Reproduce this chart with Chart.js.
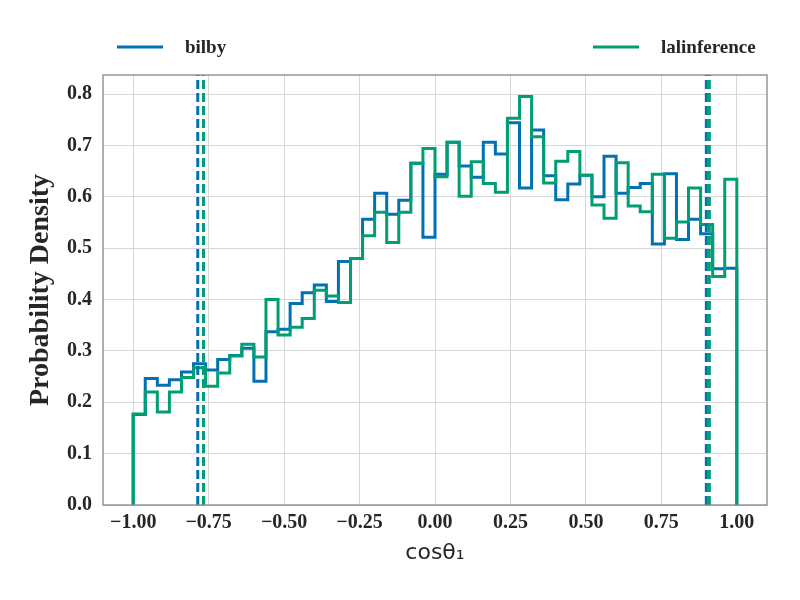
<!DOCTYPE html>
<html>
<head>
<meta charset="utf-8">
<title>cos theta_1 posterior</title>
<script src="https://cdn.jsdelivr.net/npm/chart.js@4.4.0/dist/chart.umd.min.js"></script>
<style>
    html, body { margin: 0; padding: 0; background: #ffffff; }
</style>
</head>
<body>
<canvas id="histChart" width="800" height="600"></canvas>
<script>
// histogram bins: 50 bins between -1 and 1
const binLo = -1.0;
const binHi = 1.0;

const seriesLabels = ['bilby', 'lalinference'];
const seriesColors = ['#0072B2', '#009E73'];

// probability density per bin
const bilbyDensity = [
    0.176, 0.246, 0.233, 0.244, 0.259, 0.275, 0.263, 0.283, 0.291, 0.305,
    0.241, 0.337, 0.342, 0.392, 0.413, 0.428, 0.396, 0.474, 0.480, 0.556,
    0.607, 0.566, 0.593, 0.665, 0.521, 0.644, 0.706, 0.660, 0.638, 0.706,
    0.683, 0.744, 0.617, 0.730, 0.641, 0.594, 0.625, 0.642, 0.600, 0.679,
    0.607, 0.618, 0.626, 0.508, 0.645, 0.517, 0.556, 0.528, 0.460, 0.461
];
const lalDensity = [
    0.177, 0.220, 0.181, 0.220, 0.248, 0.267, 0.231, 0.257, 0.290, 0.313,
    0.288, 0.400, 0.331, 0.346, 0.363, 0.418, 0.407, 0.394, 0.480, 0.524,
    0.570, 0.511, 0.570, 0.665, 0.694, 0.639, 0.706, 0.601, 0.668, 0.626,
    0.609, 0.753, 0.795, 0.717, 0.627, 0.669, 0.688, 0.642, 0.584, 0.558,
    0.666, 0.582, 0.571, 0.644, 0.519, 0.551, 0.617, 0.546, 0.445, 0.634
];

// 90% credible bounds (dashed lines)
const bilbyBounds = [-0.786, 0.899];
const lalBounds = [-0.767, 0.909];

const xTicks = [-1.0, -0.75, -0.5, -0.25, 0.0, 0.25, 0.5, 0.75, 1.0];
const yTicks = [0.0, 0.1, 0.2, 0.3, 0.4, 0.5, 0.6, 0.7, 0.8];
const xRange = [-1.1, 1.1];
const yRange = [0, 0.837];

const textColor = '#262626';
const serif = '"Liberation Serif", "Times New Roman", serif';

// points at the left edge of each bin, closed down to zero at both ends
function stepPoints(values) {
    const w = (binHi - binLo) / values.length;
    const pts = [{ x: binLo, y: 0 }];
    values.forEach((v, i) => {
        pts.push({ x: binLo + i * w, y: v });
    });
    pts.push({ x: binHi, y: values[values.length - 1] });
    pts.push({ x: binHi, y: 0 });
    return pts;
}

function vline(x, color, order) {
    return {
        label: '_bound',
        data: [{ x: x, y: yRange[0] }, { x: x, y: yRange[1] }],
        borderColor: color,
        borderWidth: 3,
        borderDash: [9, 4],
        pointRadius: 0,
        fill: false,
        order: order
    };
}

function histDataset(label, values, color, order) {
    return {
        label: label,
        data: stepPoints(values),
        borderColor: color,
        borderWidth: 3,
        stepped: 'before',
        pointRadius: 0,
        fill: false,
        order: order
    };
}

// plot frame on all four sides
const framePlugin = {
    id: 'frame',
    afterDatasetsDraw(chart) {
        const { ctx, chartArea } = chart;
        ctx.save();
        ctx.strokeStyle = '#808080';
        ctx.lineWidth = 1.25;
        ctx.strokeRect(chartArea.left, chartArea.top, chartArea.right - chartArea.left, chartArea.bottom - chartArea.top);
        ctx.restore();
    }
};

// legend spread across the top, like matplotlib's mode="expand"
const topLegendPlugin = {
    id: 'topLegend',
    afterDraw(chart) {
        const { ctx, chartArea } = chart;
        const y = 47;
        const items = [
            { label: seriesLabels[0], color: seriesColors[0], x: chartArea.left + 14 },
            { label: seriesLabels[1], color: seriesColors[1], x: chartArea.right - 174 }
        ];
        ctx.save();
        items.forEach(it => {
            ctx.strokeStyle = it.color;
            ctx.lineWidth = 3;
            ctx.beginPath();
            ctx.moveTo(it.x, y);
            ctx.lineTo(it.x + 46, y);
            ctx.stroke();
            ctx.fillStyle = textColor;
            ctx.font = 'bold 19px ' + serif;
            ctx.textBaseline = 'middle';
            ctx.textAlign = 'left';
            ctx.fillText(it.label, it.x + 68, y + 1);
        });
        ctx.restore();
    }
};

const fmtX = v => v.toFixed(2).replace('-', '\u2212');

new Chart(document.getElementById('histChart').getContext('2d'), {
    type: 'line',
    data: {
        datasets: [
            vline(lalBounds[0], seriesColors[1], 0),
            vline(lalBounds[1], seriesColors[1], 0),
            vline(bilbyBounds[0], seriesColors[0], 1),
            vline(bilbyBounds[1], seriesColors[0], 1),
            histDataset(seriesLabels[1], lalDensity, seriesColors[1], 2),
            histDataset(seriesLabels[0], bilbyDensity, seriesColors[0], 3)
        ]
    },
    options: {
        responsive: false,
        animation: false,
        devicePixelRatio: 1,
        layout: { padding: { top: 75, right: 33, left: 0, bottom: 0 } },
        plugins: {
            legend: { display: false },
            tooltip: { enabled: false }
        },
        scales: {
            x: {
                type: 'linear',
                min: xRange[0],
                max: xRange[1],
                afterBuildTicks: s => { s.ticks = xTicks.map(v => ({ value: v })); },
                afterFit: s => { s.height = 95; },
                ticks: {
                    callback: v => fmtX(v),
                    autoSkip: false,
                    maxRotation: 0,
                    padding: 6,
                    color: textColor,
                    font: { family: serif, size: 20, weight: 'bold' }
                },
                grid: { color: '#d6d6d6', lineWidth: 1, drawTicks: false },
                border: { display: false },
                title: {
                    display: true,
                    text: 'cos\u03B8\u2081',
                    color: textColor,
                    font: { family: '"DejaVu Sans", sans-serif', size: 22 },
                    padding: { top: 0, bottom: 34 }
                }
            },
            y: {
                type: 'linear',
                min: yRange[0],
                max: yRange[1],
                afterBuildTicks: s => { s.ticks = yTicks.map(v => ({ value: v })); },
                afterFit: s => { s.width = 103; },
                ticks: {
                    callback: v => v.toFixed(1),
                    padding: 11,
                    color: textColor,
                    font: { family: serif, size: 20, weight: 'bold' }
                },
                grid: { color: '#d6d6d6', lineWidth: 1, drawTicks: false },
                border: { display: false },
                title: {
                    display: true,
                    text: 'Probability Density',
                    color: textColor,
                    font: { family: serif, size: 28, weight: 'bold' },
                    padding: { top: 24, bottom: 0 }
                }
            }
        }
    },
    plugins: [framePlugin, topLegendPlugin]
});
</script>
</body>
</html>
